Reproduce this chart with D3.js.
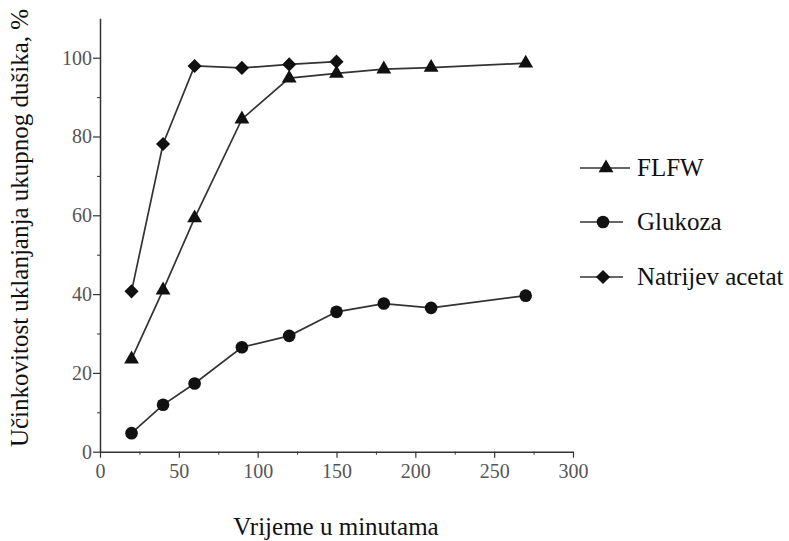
<!DOCTYPE html>
<html>
<head>
<meta charset="utf-8">
<script src="https://cdn.jsdelivr.net/npm/d3@7"></script>
<style>
	body { margin: 0; background: #fff; }
	svg text { font-family: "Liberation Serif", "Times New Roman", Times, "DejaVu Serif", serif; }
</style>
</head>
<body>
<div id="chart"></div>
<script>
const width = 789, height = 541;
const serifFont = '"Liberation Serif", "Times New Roman", Times, "DejaVu Serif", serif';

// data
const seriesNames = ["FLFW", "Glukoza", "Natrijev acetat"];
const timeFLFW = [20, 40, 60, 90, 120, 150, 180, 210, 270];
const valFLFW = [23.5, 41, 59.3, 84.4, 94.8, 96, 97.1, 97.5, 98.6];
const timeGlukoza = [20, 40, 60, 90, 120, 150, 180, 210, 270];
const valGlukoza = [4.7, 11.9, 17.3, 26.5, 29.4, 35.5, 37.6, 36.5, 39.6];
const timeAcetat = [20, 40, 60, 90, 120, 150];
const valAcetat = [40.7, 78.1, 97.9, 97.4, 98.3, 99];
const xTicks = [0, 50, 100, 150, 200, 250, 300];
const yTicks = [0, 20, 40, 60, 80, 100];

const series = [
	{ name: seriesNames[0], shape: "triangle", pts: timeFLFW.map((t, i) => [t, valFLFW[i]]) },
	{ name: seriesNames[1], shape: "circle", pts: timeGlukoza.map((t, i) => [t, valGlukoza[i]]) },
	{ name: seriesNames[2], shape: "diamond", pts: timeAcetat.map((t, i) => [t, valAcetat[i]]) }
];

const svg = d3.select("#chart").append("svg")
	.attr("width", width)
	.attr("height", height);

const x = d3.scaleLinear().domain([0, 300]).range([100, 573]);
const y = d3.scaleLinear().domain([0, 110]).range([451.7, 18.3]);

const axisColor = "#333", labelColor = "#555";

// minor ticks
svg.append("g")
	.attr("transform", `translate(0,${y(0)})`)
	.call(d3.axisBottom(x).tickValues(d3.range(25, 300, 50)).tickSize(3).tickFormat(""))
	.call(g => g.select(".domain").remove())
	.call(g => g.selectAll("line").attr("stroke", axisColor));
svg.append("g")
	.attr("transform", `translate(${x(0)},0)`)
	.call(d3.axisLeft(y).tickValues(d3.range(10, 110, 20)).tickSize(3).tickFormat(""))
	.call(g => g.select(".domain").remove())
	.call(g => g.selectAll("line").attr("stroke", axisColor));

// main axes
const xAxis = svg.append("g")
	.attr("transform", `translate(0,${y(0)})`)
	.call(d3.axisBottom(x).tickValues(xTicks).tickSize(6).tickSizeOuter(0).tickPadding(6));
const yAxis = svg.append("g")
	.attr("transform", `translate(${x(0)},0)`)
	.call(d3.axisLeft(y).tickValues(yTicks).tickSize(7).tickSizeOuter(0).tickPadding(1));

[xAxis, yAxis].forEach(g => {
	g.attr("font-family", serifFont).attr("font-size", 20);
	g.select(".domain").attr("stroke", axisColor).attr("stroke-width", 1.5);
	g.selectAll(".tick line").attr("stroke", axisColor).attr("stroke-width", 1.2);
	g.selectAll(".tick text").attr("fill", labelColor);
});

const symbolFor = {
	triangle: d3.symbol().type(d3.symbolTriangle).size(95),
	circle: d3.symbol().type(d3.symbolCircle).size(125),
	diamond: d3.symbol().type(d3.symbolSquare).size(100)
};
const rotateFor = { triangle: 0, circle: 0, diamond: 45 };

const line = d3.line().x(d => x(d[0])).y(d => y(d[1]));

series.forEach(s => {
	svg.append("path")
		.datum(s.pts)
		.attr("d", line)
		.attr("fill", "none")
		.attr("stroke", "#333")
		.attr("stroke-width", 1.7);
	svg.append("g").selectAll("path")
		.data(s.pts)
		.join("path")
		.attr("d", symbolFor[s.shape]())
		.attr("transform", d => `translate(${x(d[0])},${y(d[1])}) rotate(${rotateFor[s.shape]})`)
		.attr("fill", "#111");
});

// legend
const legendY = [168, 222, 277];
const legend = svg.append("g").attr("font-family", serifFont);
series.forEach((s, i) => {
	const g = legend.append("g").attr("transform", `translate(0,${legendY[i]})`);
	g.append("line")
		.attr("x1", 580).attr("x2", i === 0 ? 630 : 623)
		.attr("stroke", "#333").attr("stroke-width", 1.6);
	g.append("path")
		.attr("d", symbolFor[s.shape]())
		.attr("transform", `translate(${i === 0 ? 606 : 603},0) rotate(${rotateFor[s.shape]})`)
		.attr("fill", "#111");
	g.append("text")
		.attr("x", 637)
		.attr("dy", "0.33em")
		.attr("font-size", 25)
		.attr("fill", "#111")
		.text(s.name);
});

// axis titles
svg.append("text")
	.attr("x", 336)
	.attr("y", 535)
	.attr("text-anchor", "middle")
	.attr("font-family", serifFont)
	.attr("font-size", 25)
	.attr("fill", "#111")
	.text("Vrijeme u minutama");

svg.append("text")
	.attr("transform", "translate(28,228) rotate(-90)")
	.attr("text-anchor", "middle")
	.attr("font-family", serifFont)
	.attr("font-size", 25)
	.attr("fill", "#111")
	.text("Učinkovitost uklanjanja ukupnog dušika, %");
</script>
</body>
</html>
